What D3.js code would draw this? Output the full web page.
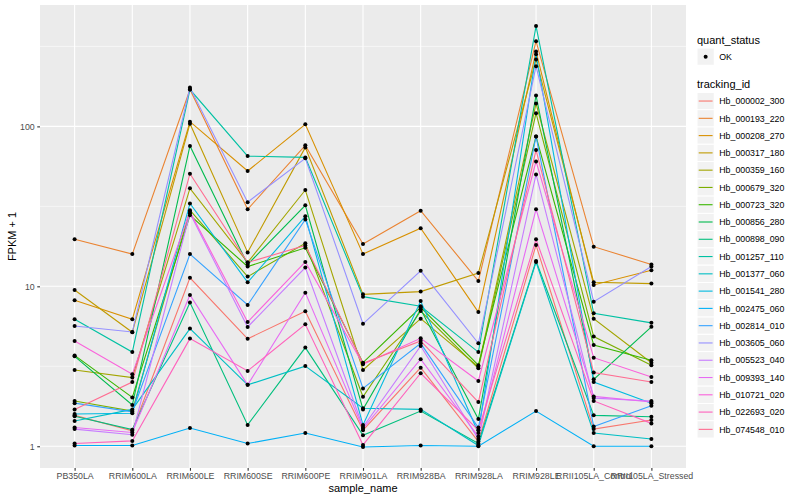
<!DOCTYPE html>
<html>
<head>
<meta charset="utf-8">
<script src="https://cdn.jsdelivr.net/npm/d3@7"></script>
<style>
  html, body { margin: 0; padding: 0; background: #ffffff; }
  svg { display: block; font-family: "Liberation Sans", Arial, Helvetica, sans-serif; }
</style>
</head>
<body>
<svg id="chart" width="800" height="500"></svg>
<script>
// ---- data ----
const samples = ["PB350LA","RRIM600LA","RRIM600LE","RRIM600SE","RRIM600PE","RRIM901LA","RRIM928BA","RRIM928LA","RRIM928LE","RRII105LA_Control","RRII105LA_Stressed"];

const trackingIds = ["Hb_000002_300","Hb_000193_220","Hb_000208_270","Hb_000317_180","Hb_000359_160","Hb_000679_320","Hb_000723_320","Hb_000856_280","Hb_000898_090","Hb_001257_110","Hb_001377_060","Hb_001541_280","Hb_002475_060","Hb_002814_010","Hb_003605_060","Hb_005523_040","Hb_009393_140","Hb_010721_020","Hb_022693_020","Hb_074548_010"];

const seriesColors = ["#F8766D","#EA8331","#D89000","#C09B00","#A3A500","#7CAE00","#39B600","#00BB4E","#00BF7D","#00C1A3","#00BFC4","#00BAE0","#00B0F6","#35A2FF","#9590FF","#C77CFF","#E76BF3","#FA62DB","#FF62BC","#FF6C91"];

// FPKM + 1, one array per tracking_id, in sample order
const Hb_000002_300 = [1.56, 1.25, 11.3, 4.70, 6.98, 1.26, 3.10, 1.07, 18.1, 1.28, 1.46];
const Hb_000193_220 = [19.7, 15.9, 170, 30.3, 76.1, 18.4, 29.7, 10.8, 341, 17.7, 13.7];
const Hb_000208_270 = [8.18, 6.22, 107, 52.6, 103, 15.9, 23.1, 6.90, 294, 10.2, 12.6];
const Hb_000317_180 = [9.48, 5.16, 104, 16.3, 73.9, 8.91, 9.27, 12.1, 262, 10.6, 10.4];
const Hb_000359_160 = [3.00, 2.69, 41.0, 14.1, 40.0, 3.00, 6.28, 3.14, 139, 6.28, 3.33];
const Hb_000679_320 = [1.92, 1.66, 29.9, 11.5, 18.6, 2.04, 7.01, 3.07, 121, 4.85, 3.21];
const Hb_000723_320 = [3.70, 2.02, 27.8, 13.3, 17.4, 3.33, 7.39, 3.21, 86.6, 4.30, 3.45];
const Hb_000856_280 = [3.65, 1.81, 75.4, 13.7, 32.1, 1.70, 7.18, 1.48, 156, 2.62, 5.58];
const Hb_000898_090 = [1.54, 1.27, 7.91, 1.36, 4.14, 1.17, 1.66, 1.04, 14.4, 1.56, 1.53];
const Hb_001257_110 = [6.22, 3.88, 170, 65.2, 64.0, 8.62, 7.50, 3.88, 424, 6.78, 5.91];
const Hb_001377_060 = [1.44, 1.70, 5.44, 2.42, 3.17, 1.73, 1.70, 1.01, 14.2, 1.21, 1.11];
const Hb_001541_280 = [1.59, 1.61, 33.0, 10.6, 27.4, 1.36, 8.09, 1.21, 282, 2.52, 1.86];
const Hb_002475_060 = [1.01, 1.01, 1.30, 1.04, 1.21, 0.99, 1.01, 1.00, 1.66, 1.00, 1.00];
const Hb_002814_010 = [1.86, 1.64, 15.9, 7.64, 26.2, 2.30, 4.40, 1.31, 86.6, 1.33, 1.79];
const Hb_003605_060 = [5.65, 5.18, 175, 33.6, 63.1, 5.83, 12.5, 4.40, 238, 8.02, 13.3];
const Hb_005523_040 = [1.28, 1.18, 28.6, 5.57, 13.1, 1.32, 4.24, 1.11, 50.1, 2.00, 1.92];
const Hb_009393_140 = [1.31, 1.22, 8.82, 2.42, 9.13, 1.29, 3.50, 1.15, 30.3, 2.05, 1.89];
const Hb_010721_020 = [4.55, 2.82, 29.3, 5.98, 14.2, 3.26, 4.73, 2.56, 60.4, 3.58, 2.71];
const Hb_022693_020 = [1.04, 1.08, 4.71, 2.96, 5.79, 1.02, 2.86, 1.26, 19.7, 1.92, 1.39];
const Hb_074548_010 = [1.70, 2.52, 50.6, 14.1, 18.0, 3.30, 4.56, 1.89, 71.1, 2.89, 2.52];

const seriesValues = [Hb_000002_300, Hb_000193_220, Hb_000208_270, Hb_000317_180, Hb_000359_160, Hb_000679_320, Hb_000723_320, Hb_000856_280, Hb_000898_090, Hb_001257_110, Hb_001377_060, Hb_001541_280, Hb_002475_060, Hb_002814_010, Hb_003605_060, Hb_005523_040, Hb_009393_140, Hb_010721_020, Hb_022693_020, Hb_074548_010];

const yMajorTicks = [1, 10, 100];
const yMinorTicks = [Math.sqrt(10), Math.sqrt(1000), Math.sqrt(100000)];
const quantStatus = ["OK"];

// ---- layout ----
const svg = d3.select("#chart");
const panel = { left: 40, right: 686, top: 5, bottom: 468 };

const series = trackingIds.map((id, i) => ({
  id, color: seriesColors[i],
  values: samples.map((s, j) => ({ sample: s, v: seriesValues[i][j] }))
}));

const allVals = seriesValues.flat();
const lo = Math.log10(d3.min(allVals)), hi = Math.log10(d3.max(allVals));
const ex = (hi - lo) * 0.05;

const x = d3.scalePoint().domain(samples).range([panel.left, panel.right]).padding(0.6);
const y = d3.scaleLog().domain([Math.pow(10, lo - ex), Math.pow(10, hi + ex)]).range([panel.bottom, panel.top]);

// panel background
svg.append("rect")
  .attr("x", panel.left).attr("y", panel.top)
  .attr("width", panel.right - panel.left).attr("height", panel.bottom - panel.top)
  .attr("fill", "#EBEBEB");

// grid
const grid = svg.append("g");
grid.selectAll("line.minor").data(yMinorTicks).enter().append("line")
  .attr("x1", panel.left).attr("x2", panel.right)
  .attr("y1", d => y(d)).attr("y2", d => y(d))
  .attr("stroke", "#ffffff").attr("stroke-width", 0.55);
grid.selectAll("line.major").data(yMajorTicks).enter().append("line")
  .attr("x1", panel.left).attr("x2", panel.right)
  .attr("y1", d => y(d)).attr("y2", d => y(d))
  .attr("stroke", "#ffffff").attr("stroke-width", 1.1);
grid.selectAll("line.vx").data(samples).enter().append("line")
  .attr("x1", d => x(d)).attr("x2", d => x(d))
  .attr("y1", panel.top).attr("y2", panel.bottom)
  .attr("stroke", "#ffffff").attr("stroke-width", 1.1);

// lines
const line = d3.line().x(d => x(d.sample)).y(d => y(d.v));
svg.append("g").selectAll("path").data(series).enter().append("path")
  .attr("d", d => line(d.values))
  .attr("fill", "none")
  .attr("stroke", d => d.color)
  .attr("stroke-width", 1.1);

// points
svg.append("g").selectAll("circle")
  .data(series.flatMap(s => s.values)).enter().append("circle")
  .attr("cx", d => x(d.sample)).attr("cy", d => y(d.v))
  .attr("r", 2).attr("fill", "#000000");

// axes
const yAxis = d3.axisLeft(y).tickValues(yMajorTicks).tickFormat(d3.format("d")).tickSize(2.75).tickPadding(2.5);
const gy = svg.append("g").attr("transform", `translate(${panel.left},0)`).call(yAxis);
const xAxis = d3.axisBottom(x).tickSize(2.75).tickPadding(2.5);
const gx = svg.append("g").attr("transform", `translate(0,${panel.bottom})`).call(xAxis);
[gx, gy].forEach(g => {
  g.select(".domain").remove();
  g.selectAll(".tick line").attr("stroke", "#333333").attr("stroke-width", 1.1);
  g.selectAll(".tick text").attr("fill", "#4D4D4D").style("font-size", "8.8px")
    .style("font-family", '"Liberation Sans", Arial, sans-serif');
});

// axis titles
svg.append("text").attr("x", (panel.left + panel.right) / 2).attr("y", 492)
  .attr("text-anchor", "middle").style("font-size", "11px").attr("fill", "#000")
  .text("sample_name");
svg.append("text")
  .attr("transform", `translate(16,${(panel.top + panel.bottom) / 2}) rotate(-90)`)
  .attr("text-anchor", "middle").style("font-size", "11px").attr("fill", "#000")
  .text("FPKM + 1");

// legends
const lg = svg.append("g").attr("transform", "translate(697,0)");
const keySize = 17.28;
lg.append("text").attr("x", 0).attr("y", 44).style("font-size", "11px").text("quant_status");
const qk = lg.selectAll("g.q").data(quantStatus).enter().append("g")
  .attr("transform", (d, i) => `translate(0,${48 + i * keySize})`);
qk.append("rect").attr("width", keySize).attr("height", keySize)
  .attr("fill", "#F2F2F2").attr("stroke", "#ffffff").attr("stroke-width", 1);
qk.append("circle").attr("cx", keySize / 2).attr("cy", keySize / 2).attr("r", 2).attr("fill", "#000");
qk.append("text").attr("x", keySize + 5).attr("y", keySize / 2 + 3.2)
  .style("font-size", "8.8px").text(d => d);

lg.append("text").attr("x", 0).attr("y", 88).style("font-size", "11px").text("tracking_id");
const tk = lg.selectAll("g.t").data(series).enter().append("g")
  .attr("transform", (d, i) => `translate(0,${92.4 + i * keySize})`);
tk.append("rect").attr("width", keySize).attr("height", keySize)
  .attr("fill", "#F2F2F2").attr("stroke", "#ffffff").attr("stroke-width", 1);
tk.append("line").attr("x1", 1.7).attr("x2", keySize - 1.7)
  .attr("y1", keySize / 2).attr("y2", keySize / 2)
  .attr("stroke", d => d.color).attr("stroke-width", 1.1);
tk.append("text").attr("x", keySize + 5).attr("y", keySize / 2 + 3.2)
  .style("font-size", "8.8px").text(d => d.id);
</script>
</body>
</html>
